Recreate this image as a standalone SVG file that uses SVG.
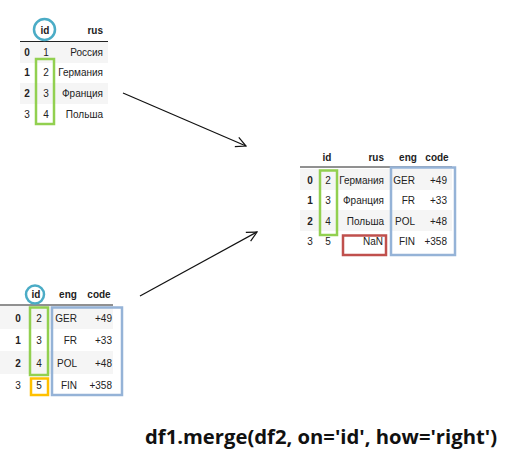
<svg xmlns="http://www.w3.org/2000/svg" width="515" height="458" viewBox="0 0 515 458">
<defs>
<style>
.t{font-family:"Liberation Sans",Arial,sans-serif;font-size:10px;fill:#222}
.h{font-weight:bold}
.m{text-anchor:middle}
.e{text-anchor:end}
.bg{fill:#f5f5f5}
.hl{stroke:#222;stroke-width:1}
.g{fill:none;stroke:#92d050;stroke-width:2.5}
.b{fill:none;stroke:#95b3d7;stroke-width:2.5}
.r{fill:none;stroke:#c0504d;stroke-width:2.5}
.o{fill:none;stroke:#ffc000;stroke-width:2.5}
.c{fill:none;stroke:#4bacc6;stroke-width:2.5}
.a{fill:none;stroke:#111;stroke-width:1.2}
.title{font-family:"Open Sans","Liberation Sans",sans-serif;font-size:20px;font-weight:bold;fill:#111}
</style>
<marker id="arr" viewBox="0 0 12 12" refX="11" refY="6" markerWidth="12" markerHeight="12" markerUnits="userSpaceOnUse" orient="auto">
<path d="M1,1 L11,6 L1,11" fill="none" stroke="#111" stroke-width="1.2"/>
</marker>
</defs>
<rect width="515" height="458" fill="#fff"/>

<g id="df1">
<rect class="bg" x="20" y="42" width="88" height="21"/>
<rect class="bg" x="20" y="83" width="88" height="21"/>
<line class="hl" x1="20" y1="41.5" x2="108" y2="41.5"/>
<text class="t h m" x="45" y="34">id</text>
<text class="t h e" x="103" y="34">rus</text>
<text class="t h m" x="27" y="56">0</text>
<text class="t h m" x="27" y="76">1</text>
<text class="t h m" x="27" y="97">2</text>
<text class="t m" x="27" y="118">3</text>
<text class="t m" x="46" y="56">1</text>
<text class="t m" x="46" y="76">2</text>
<text class="t m" x="46" y="97">3</text>
<text class="t m" x="46" y="118">4</text>
<text class="t e" x="103" y="56">Россия</text>
<text class="t e" x="103" y="76">Германия</text>
<text class="t e" x="103" y="97">Франция</text>
<text class="t e" x="103" y="118">Польша</text>
<circle class="c" cx="44.5" cy="29.5" r="10.5"/>
<rect class="g" x="36" y="59" width="18" height="65"/>
</g>

<g id="df2">
<rect class="bg" x="0" y="306" width="113" height="23"/>
<rect class="bg" x="0" y="351" width="113" height="23"/>
<line class="hl" x1="0" y1="305" x2="113" y2="305"/>
<text class="t h m" x="36" y="298">id</text>
<text class="t h m" x="68" y="298">eng</text>
<text class="t h m" x="99" y="298">code</text>
<text class="t h m" x="18" y="322">0</text>
<text class="t h m" x="18" y="344">1</text>
<text class="t h m" x="18" y="367">2</text>
<text class="t m" x="18" y="389">3</text>
<text class="t m" x="39" y="322">2</text>
<text class="t m" x="39" y="344">3</text>
<text class="t m" x="39" y="367">4</text>
<text class="t m" x="39" y="389">5</text>
<text class="t e" x="77" y="322">GER</text>
<text class="t e" x="77" y="344">FR</text>
<text class="t e" x="77" y="367">POL</text>
<text class="t e" x="77" y="389">FIN</text>
<text class="t e" x="112" y="322">+49</text>
<text class="t e" x="112" y="344">+33</text>
<text class="t e" x="112" y="367">+48</text>
<text class="t e" x="112" y="389">+358</text>
<circle class="c" cx="35" cy="294.5" r="9"/>
<rect class="g" x="30" y="307.5" width="18" height="67.5"/>
<rect class="o" x="31" y="378.5" width="17" height="16.5"/>
<rect class="b" x="52" y="307.5" width="70" height="87.5"/>
</g>

<g id="result">
<rect class="bg" x="300" y="169" width="152" height="21"/>
<rect class="bg" x="300" y="210" width="152" height="21"/>
<line class="hl" x1="300" y1="167" x2="452" y2="167"/>
<text class="t h m" x="327" y="161">id</text>
<text class="t h e" x="384" y="161">rus</text>
<text class="t h m" x="408" y="161">eng</text>
<text class="t h m" x="437" y="161">code</text>
<text class="t h m" x="310" y="184">0</text>
<text class="t h m" x="310" y="204">1</text>
<text class="t h m" x="310" y="225">2</text>
<text class="t m" x="310" y="245">3</text>
<text class="t m" x="328" y="184">2</text>
<text class="t m" x="328" y="204">3</text>
<text class="t m" x="328" y="225">4</text>
<text class="t m" x="328" y="245">5</text>
<text class="t e" x="384" y="184">Германия</text>
<text class="t e" x="384" y="204">Франция</text>
<text class="t e" x="384" y="225">Польша</text>
<text class="t e" x="383" y="245">NaN</text>
<text class="t e" x="415" y="184">GER</text>
<text class="t e" x="415" y="204">FR</text>
<text class="t e" x="415" y="225">POL</text>
<text class="t e" x="415" y="245">FIN</text>
<text class="t e" x="447" y="184">+49</text>
<text class="t e" x="447" y="204">+33</text>
<text class="t e" x="447" y="225">+48</text>
<text class="t e" x="447" y="245">+358</text>
<rect class="g" x="320" y="170.5" width="17" height="64.5"/>
<rect class="r" x="343" y="235.5" width="43" height="19.5"/>
<rect class="b" x="391" y="167.5" width="64" height="87.5"/>
</g>

<g id="connectors">
<line class="a" x1="123" y1="93" x2="246" y2="146" marker-end="url(#arr)"/>
<line class="a" x1="140" y1="296" x2="257" y2="232" marker-end="url(#arr)"/>
</g>

<g id="caption">
<text class="title" x="145" y="444" textLength="352" lengthAdjust="spacingAndGlyphs">df1.merge(df2, on='id', how='right')</text>
</g>
</svg>
